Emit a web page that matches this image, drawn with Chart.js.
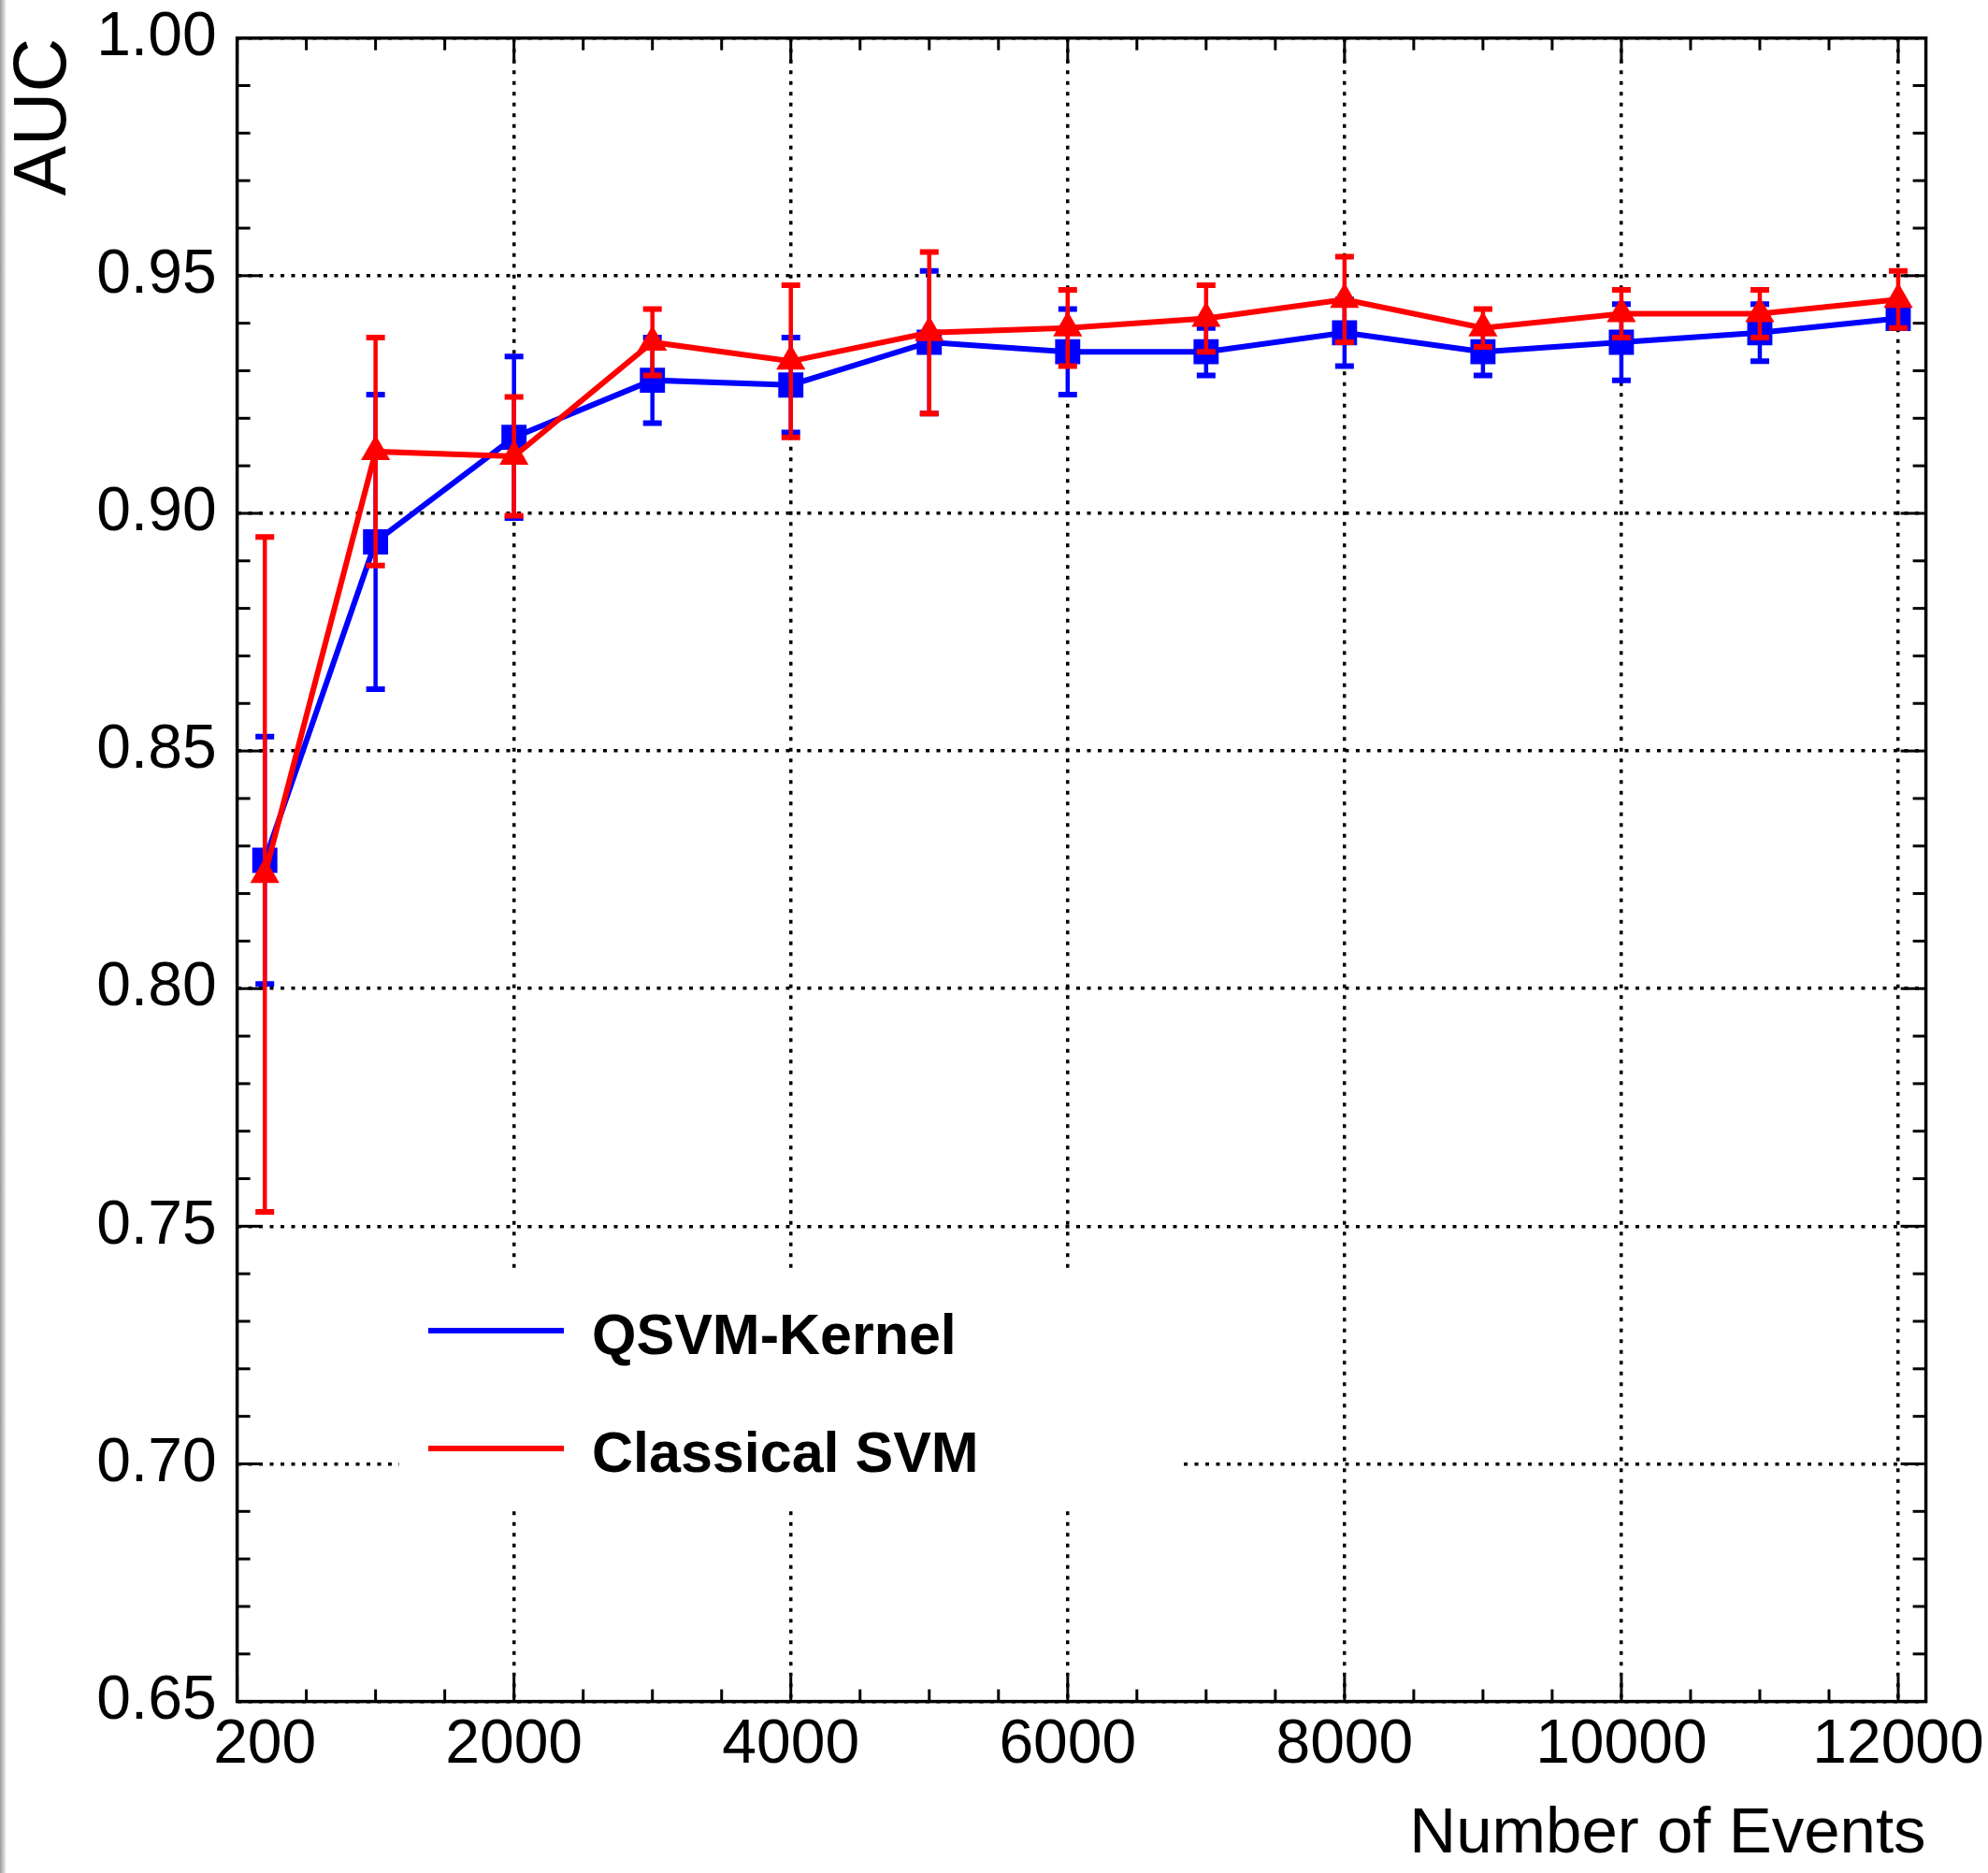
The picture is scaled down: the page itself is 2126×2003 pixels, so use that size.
<!DOCTYPE html>
<html>
<head>
<meta charset="utf-8">
<title>AUC vs Number of Events</title>
<script src="https://cdn.jsdelivr.net/npm/chart.js@4.4.0/dist/chart.umd.min.js"></script>
<style>
    html, body { margin: 0; padding: 0; background: #fff; }
    #wrap { position: relative; width: 2126px; height: 2003px; overflow: hidden; }
    #edge {
        position: absolute; left: 0; top: 0; width: 7px; height: 100%;
        background: linear-gradient(to right, #9c9c9c, #cfcfcf 55%, #fff);
    }
    .legend {
        position: absolute; left: 427px; top: 1358px; width: 834px; height: 253px;
        background: #fff;
        font-family: "Liberation Sans", Arial, Helvetica, sans-serif;
        font-weight: bold; font-size: 61px; color: #000;
    }
    .legend .row { position: absolute; left: 0; height: 0; width: 100%; }
    .legend .swatch { position: absolute; left: 31px; top: -3px; width: 145px; height: 6px; }
    .legend .label { position: absolute; left: 206px; top: -32px; line-height: 72px; white-space: nowrap; }
</style>
</head>
<body>
<div id="wrap">
    <canvas id="aucChart"></canvas>
    <div id="edge"></div>
    <div class="legend">
        <div class="row" style="top:65px"><span class="swatch" style="background:#0000ff"></span><span class="label">QSVM-Kernel</span></div>
        <div class="row" style="top:191px"><span class="swatch" style="background:#ff0000"></span><span class="label">Classical SVM</span></div>
    </div>
</div>
<script>
// training-set sizes
const events = [200, 1000, 2000, 3000, 4000, 5000, 6000, 7000, 8000, 9000, 10000, 11000, 12000];

// QSVM with quantum kernel
const qsvmAuc = [0.827, 0.894, 0.916, 0.928, 0.927, 0.936, 0.934, 0.934, 0.938, 0.934, 0.936, 0.938, 0.941];
const qsvmErr = [0.026, 0.031, 0.017, 0.009, 0.010, 0.015, 0.009, 0.005, 0.007, 0.005, 0.008, 0.006, 0.002];

// classical SVM
const svmAuc = [0.824, 0.913, 0.912, 0.936, 0.932, 0.938, 0.939, 0.941, 0.945, 0.939, 0.942, 0.942, 0.945];
const svmErr = [0.071, 0.024, 0.0125, 0.007, 0.016, 0.017, 0.008, 0.007, 0.009, 0.004, 0.005, 0.005, 0.006];

// axis labels
const xTickLabels = [200, 2000, 4000, 6000, 8000, 10000, 12000];
const yTickLabels = [0.65, 0.70, 0.75, 0.80, 0.85, 0.90, 0.95, 1.00];

const X_MIN = 0, X_MAX = 12200, X_MAJOR = 2000, X_MINOR = 500;
const Y_MIN = 0.65, Y_MAX = 1.00, Y_MAJOR = 0.05, Y_MINOR = 0.01;

const FONT = '"Liberation Sans", Arial, Helvetica, sans-serif';
Chart.defaults.font.family = FONT;
Chart.defaults.color = "#000";

const points = (ys) => events.map((x, i) => ({ x, y: ys[i] }));

/* vertical error bars with flat caps, drawn under each dataset's markers */
const errorBars = {
    id: "errorBars",
    beforeDatasetDraw(chart, args) {
        const ds = chart.data.datasets[args.index];
        if (!ds.yErr) return;
        const { ctx, scales: { x, y } } = chart;
        ctx.save();
        ctx.strokeStyle = ds.borderColor;
        ctx.lineCap = "butt";
        ds.data.forEach((p, i) => {
            const px = x.getPixelForValue(p.x);
            const top = y.getPixelForValue(p.y + ds.yErr[i]);
            const bot = y.getPixelForValue(p.y - ds.yErr[i]);
            ctx.lineWidth = 4.5;
            ctx.beginPath();
            ctx.moveTo(px, top);
            ctx.lineTo(px, bot);
            ctx.stroke();
            ctx.lineWidth = 6;
            ctx.beginPath();
            ctx.moveTo(px - 10, top); ctx.lineTo(px + 10, top);
            ctx.moveTo(px - 10, bot); ctx.lineTo(px + 10, bot);
            ctx.stroke();
        });
        ctx.restore();
    },
};

/* closed frame with inward ticks on all four sides */
const frameTicks = {
    id: "frameTicks",
    afterDraw(chart) {
        const { ctx, chartArea: a, scales: { x, y } } = chart;
        const seg = (x1, y1, x2, y2) => {
            ctx.beginPath();
            ctx.moveTo(x1, y1);
            ctx.lineTo(x2, y2);
            ctx.stroke();
        };
        ctx.save();
        ctx.strokeStyle = "#000";
        ctx.lineWidth = 3;
        for (let v = X_MIN; v <= X_MAX; v += X_MINOR) {
            const px = x.getPixelForValue(v);
            const len = v % X_MAJOR === 0 ? 27 : 13;
            seg(px, a.bottom, px, a.bottom - len);
            seg(px, a.top, px, a.top + len);
        }
        const nMinor = Math.round((Y_MAX - Y_MIN) / Y_MINOR);
        const perMajor = Math.round(Y_MAJOR / Y_MINOR);
        for (let k = 0; k <= nMinor; k++) {
            const py = y.getPixelForValue(Y_MIN + k * Y_MINOR);
            const len = k % perMajor === 0 ? 27 : 14;
            seg(a.left, py, a.left + len, py);
            seg(a.right, py, a.right - len, py);
        }
        ctx.lineWidth = 3.5;
        ctx.strokeRect(a.left, a.top, a.right - a.left, a.bottom - a.top);
        ctx.restore();
    },
};

new Chart(document.getElementById("aucChart"), {
    type: "line",
    data: {
        datasets: [
            {
                label: "QSVM-Kernel",
                data: points(qsvmAuc),
                yErr: qsvmErr,
                borderColor: "#0000ff",
                backgroundColor: "#0000ff",
                borderWidth: 6,
                tension: 0,
                pointStyle: "rect",
                pointRadius: 19,
                pointBorderWidth: 0,
                pointBackgroundColor: "#0000ff",
                order: 1,
            },
            {
                label: "Classical SVM",
                data: points(svmAuc),
                yErr: svmErr,
                borderColor: "#ff0000",
                backgroundColor: "#ff0000",
                borderWidth: 6,
                tension: 0,
                pointStyle: "triangle",
                pointRadius: 18,
                pointBorderWidth: 0,
                pointBackgroundColor: "#ff0000",
                order: 0,
            },
        ],
    },
    options: {
        responsive: true,
        maintainAspectRatio: false,
        animation: false,
        events: [],
        layout: { padding: { top: 40.7, right: 66.4, left: 0, bottom: 0 } },
        plugins: {
            legend: { display: false },
            tooltip: { enabled: false },
        },
        scales: {
            x: {
                type: "linear",
                min: X_MIN,
                max: X_MAX,
                afterBuildTicks: (s) => { s.ticks = xTickLabels.map((value) => ({ value })); },
                afterFit: (s) => {
                    s.height = 2003 - 1819.6;
                    s.paddingLeft = 0;
                    s.paddingRight = 0;
                },
                ticks: {
                    autoSkip: false,
                    maxRotation: 0,
                    padding: 8,
                    font: { size: 66 },
                    callback: (v) => String(v),
                },
                grid: {
                    drawTicks: false,
                    color: "#000",
                    lineWidth: (c) => (c.tick && c.tick.value === xTickLabels[0] ? 0 : 3.5),
                },
                border: { display: false, dash: [4, 7.5] },
                title: {
                    display: true,
                    text: "Number of Events",
                    align: "end",
                    padding: 0,
                    font: { size: 69 },
                },
            },
            y: {
                min: Y_MIN,
                max: Y_MAX,
                afterBuildTicks: (s) => { s.ticks = yTickLabels.map((value) => ({ value })); },
                afterFit: (s) => {
                    s.width = 253.6;
                    s.paddingTop = 0;
                    s.paddingBottom = 0;
                },
                ticks: {
                    padding: 22,
                    font: { size: 66 },
                    callback: (v) => v.toFixed(2),
                },
                grid: { drawTicks: false, color: "#000", lineWidth: 3.5 },
                border: { display: false, dash: [4, 7.5] },
                title: {
                    display: true,
                    text: "AUC",
                    align: "end",
                    padding: 0,
                    font: { size: 80 },
                },
            },
        },
    },
    plugins: [errorBars, frameTicks],
});
</script>
</body>
</html>
